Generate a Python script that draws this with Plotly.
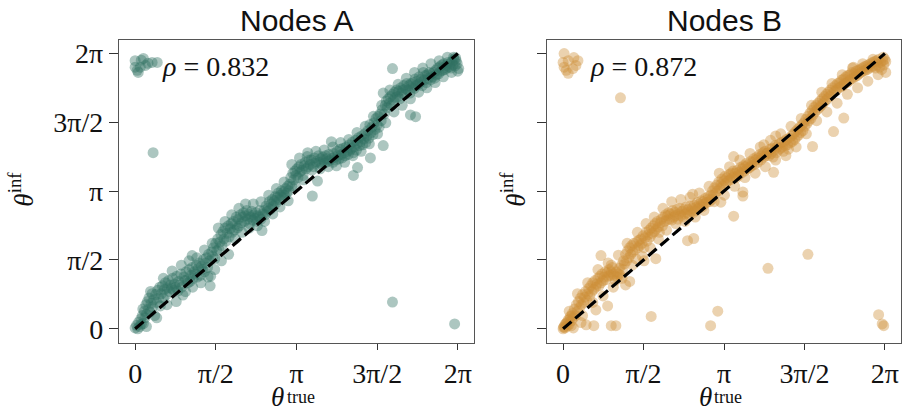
import math
import plotly.graph_objects as go

TWO_PI = 2 * math.pi

# ---------------- Nodes A : true vs inferred angular coordinates ----------------
a_true_1 = [0.00, 0.03, 0.05, 0.07, 0.09, 0.11, 0.12, 0.14, 0.16, 0.18, 0.19, 0.21, 0.22, 0.24,
            0.26, 0.27, 0.29, 0.31, 0.33, 0.34, 0.36, 0.38, 0.40, 0.42, 0.44, 0.46, 0.48, 0.49,
            0.51, 0.53, 0.55, 0.57, 0.59, 0.61, 0.63, 0.65, 0.67, 0.69, 0.71, 0.73, 0.75, 0.77,
            0.79, 0.81, 0.83, 0.85, 0.87, 0.89, 0.91, 0.93, 0.95, 0.97, 0.99]
a_inf_1 = [0.02, 0.08, 0.00, 0.15, 0.05, 0.22, 0.10, 0.30, 0.12, 0.40, 0.25, 0.55, 0.33, 0.62,
           0.45, 0.70, 0.38, 0.58, 0.80, 0.50, 0.66, 0.30, 0.78, 0.60, 0.88, 0.70, 0.95, 0.52,
           0.80, 0.98, 0.70, 0.90, 1.05, 0.78, 0.93, 1.10, 0.85, 1.00, 0.92, 1.15, 0.88, 1.02,
           0.95, 1.20, 0.86, 1.08, 1.00, 1.25, 0.95, 0.77, 1.18, 1.10, 1.30]

a_true_2 = [1.01, 1.03, 1.05, 1.07, 1.09, 1.11, 1.11, 1.13, 1.15, 1.17, 1.19, 1.21, 1.23, 1.25,
            1.27, 1.29, 1.31, 1.33, 1.35, 1.37, 1.39, 1.41, 1.43, 1.45, 1.46, 1.47, 1.49,
            1.51, 1.53, 1.55, 1.57, 1.59, 1.61, 1.63, 1.65, 1.67, 1.69, 1.71, 1.73, 1.75, 1.77,
            1.79, 1.81, 1.83, 1.85, 1.87, 1.89, 1.91, 1.93, 1.95, 1.97, 1.99]
a_inf_2 = [1.12, 1.05, 1.35, 1.08, 1.22, 1.40, 1.67, 1.15, 1.30, 1.25, 1.45, 1.18, 1.38, 1.50,
           1.22, 1.42, 1.35, 1.58, 1.30, 1.50, 1.62, 1.40, 1.70, 1.55, 0.98, 1.20, 1.75,
           1.65, 1.85, 1.60, 1.95, 1.78, 2.05, 1.82, 1.98, 2.15, 1.90, 2.22, 2.05, 2.30, 2.00,
           2.18, 2.35, 2.10, 2.28, 2.40, 2.20, 2.45, 2.25, 2.38, 2.55, 2.30]

a_true_3 = [2.01, 2.03, 2.05, 2.07, 2.09, 2.11, 2.13, 2.15, 2.17, 2.19, 2.21, 2.23, 2.25, 2.27,
            2.29, 2.31, 2.33, 2.35, 2.37, 2.39, 2.41, 2.43, 2.45, 2.47, 2.49,
            2.51, 2.53, 2.55, 2.57, 2.59, 2.61, 2.63, 2.65, 2.67, 2.69, 2.71, 2.73, 2.75, 2.77,
            2.79, 2.81, 2.83, 2.85, 2.87, 2.89, 2.91, 2.93, 2.95, 2.97, 2.99]
a_inf_3 = [2.50, 2.35, 2.60, 2.42, 2.55, 2.65, 2.45, 2.58, 2.70, 2.50, 2.62, 2.40, 2.55, 2.68,
           2.48, 2.60, 2.52, 2.65, 2.45, 2.58, 2.55, 2.70, 2.50, 2.24, 2.62,
           2.70, 2.60, 2.80, 2.68, 2.75, 2.90, 2.72, 2.85, 2.95, 2.80, 2.92, 3.02, 2.88, 3.00,
           3.10, 2.95, 3.05, 3.15, 3.00, 3.12, 3.05, 3.20, 3.10, 3.25, 3.15]

a_true_4 = [3.01, 3.03, 3.05, 3.07, 3.09, 3.11, 3.13, 3.15, 3.17, 3.19, 3.21, 3.23, 3.25, 3.27,
            3.29, 3.31, 3.33, 3.35, 3.37, 3.39, 3.45,
            3.41, 3.43, 3.47, 3.49, 3.51, 3.53, 3.55, 3.57, 3.59, 3.61, 3.63, 3.65, 3.67, 3.69,
            3.71, 3.73, 3.75, 3.77, 3.79, 3.82, 3.83, 3.85, 3.87, 3.89, 3.91, 3.93, 3.95, 3.97,
            3.99, 4.01, 4.03, 4.05, 4.07, 4.09, 4.11, 4.13, 4.15, 4.17, 4.19]
a_inf_4 = [3.30, 3.45, 3.25, 3.55, 3.40, 3.60, 3.50, 3.65, 3.45, 3.70, 3.58, 3.75, 3.62, 3.50,
           3.72, 3.80, 3.65, 3.93, 3.70, 3.85, 3.03,
           3.75, 3.85, 3.70, 3.90, 3.78, 3.82, 3.37, 3.95, 3.80, 3.88, 3.75, 3.92, 3.85, 3.78,
           3.95, 3.88, 3.82, 3.98, 3.85, 4.27, 3.90, 3.80, 4.00, 3.92, 3.85, 4.05, 3.95, 3.88,
           4.10, 3.98, 3.90, 4.12, 4.02, 3.95, 4.15, 4.05, 3.98, 4.20, 4.08]

a_true_5 = [4.21, 4.23, 4.25, 4.27, 4.29, 4.31, 4.33, 4.35, 4.37, 4.39, 4.41, 4.43, 4.45, 4.47,
            4.49, 4.51, 4.53, 4.55, 4.57, 4.59, 4.61, 4.63, 4.65, 4.67, 4.69, 4.71, 4.73, 4.75,
            4.77, 4.79,
            4.25, 4.33, 4.58, 4.83,
            4.81, 4.83, 4.85, 4.87, 4.89, 4.91, 4.93, 4.95, 4.97, 4.99, 5.01, 5.03, 5.05, 5.07,
            5.09, 5.11, 5.13, 5.15, 5.17, 5.19, 5.21, 5.23, 5.25, 5.27, 5.29]
a_inf_5 = [4.12, 4.26, 4.02, 4.16, 4.30, 4.08, 4.24, 4.36, 4.18, 4.28, 4.40, 4.20, 4.33, 4.45,
           4.25, 4.40, 4.52, 4.35, 4.66, 4.47, 4.60, 4.43, 4.70, 4.55, 4.80, 4.65, 4.85, 4.60,
           4.90, 4.75,
           3.50, 3.68, 3.90, 4.18,
           5.00, 5.38, 4.90, 5.10, 5.20, 5.05, 5.25, 5.15, 5.30, 5.10, 5.35, 5.22, 5.40, 5.28,
           5.45, 5.30, 5.42, 5.25, 5.50, 5.38, 5.45, 5.55, 5.35, 5.48, 5.60]

a_true_6 = [5.31, 5.33, 5.35, 5.37, 5.39, 5.41, 5.43, 5.45, 5.47, 5.49, 5.51, 5.53, 5.55, 5.57,
            5.59, 5.61, 5.63, 5.65, 5.67, 5.69, 5.71, 5.73, 5.75, 5.77, 5.79,
            5.36, 5.46,
            5.81, 5.83, 5.85, 5.87, 5.89, 5.91, 5.93, 5.95, 5.97, 5.99, 6.01, 6.03, 6.05, 6.07,
            6.09, 6.11, 6.13, 6.15, 6.17, 6.19, 6.21, 6.23, 6.25, 6.27,
            6.30, 6.20]
a_inf_6 = [5.45, 5.55, 5.38, 5.60, 5.50, 5.62, 5.48, 5.70, 5.55, 5.65, 5.58, 5.75, 5.62, 5.70,
           5.55, 5.85, 5.68, 5.78, 5.62, 5.80, 5.72, 5.85, 5.68, 5.82, 5.75,
           4.88, 4.84,
           5.85, 5.72, 5.90, 5.80, 5.95, 5.82, 5.98, 5.88, 6.02, 5.90, 6.05, 5.92, 6.00, 5.95,
           6.08, 5.98, 6.05, 5.95, 6.10, 6.02, 6.15, 6.00, 6.12, 6.05,
           5.94, 6.20]

# looser nodes on both flanks of the diagonal band
a_true_wide = [0.15, 0.22, 0.30, 0.42, 0.55, 0.62, 0.72, 0.80, 0.90, 0.98, 1.05, 1.12, 1.20,
               1.28, 1.35, 1.42, 1.50, 1.55, 1.62, 1.68, 1.75, 1.82, 1.88, 1.95, 2.02, 2.08,
               2.15, 2.22, 2.30, 2.38, 2.45, 2.52, 2.60, 2.68, 2.75, 2.82, 2.90, 2.98, 3.05,
               3.12, 3.20, 3.28, 3.36, 3.44, 3.52, 3.60, 3.68, 3.76, 3.85, 3.92, 4.00, 4.08,
               4.16, 4.24, 4.32, 4.40, 4.48, 4.56, 4.64, 4.72, 4.80, 4.88, 4.96, 5.04, 5.12,
               5.20, 5.28, 5.36, 5.44, 5.52, 5.60, 5.68, 5.76, 5.84, 5.92, 6.00, 6.08, 6.16,
               6.24, 6.28]
a_inf_wide = [0.45, 0.05, 0.85, 0.25, 1.15, 0.55, 1.32, 0.62, 1.45, 0.85, 1.55, 0.95, 1.62,
              1.05, 1.80, 1.18, 1.95, 1.35, 2.30, 1.55, 2.45, 1.70, 2.60, 2.05, 2.75, 2.20,
              2.85, 2.30, 2.85, 2.35, 2.90, 2.45, 3.05, 2.62, 3.20, 2.78, 3.35, 2.92, 3.75,
              3.25, 3.90, 3.40, 4.02, 3.62, 4.05, 3.65, 4.08, 3.70, 4.15, 3.72, 4.25, 3.80,
              4.32, 3.95, 4.48, 4.05, 4.62, 4.22, 4.85, 4.45, 5.10, 4.70, 5.45, 4.95, 5.58,
              5.10, 5.72, 5.25, 5.85, 5.40, 5.95, 5.50, 6.05, 5.62, 6.12, 5.75, 6.20, 5.85,
              6.18, 5.88]

# nodes whose inferred angle wrapped around the circle or landed far off
a_true_off = [0.00, 0.16, 0.33, 0.43, 0.04, 0.00, 0.10, 0.20, 0.25, 0.06, 0.12,
              0.35, 5.01, 6.22, 5.01]
a_inf_off = [6.12, 6.17, 6.08, 6.08, 5.90, 5.97, 5.97, 6.01, 6.06, 5.85, 6.13,
             4.02, 0.61, 0.11, 5.94]

# ---------------- Nodes B ----------------
b_true_1 = [0.00, 0.02, 0.04, 0.06, 0.08, 0.10, 0.12, 0.14, 0.16, 0.18, 0.20, 0.22, 0.24, 0.26,
            0.28, 0.30, 0.32, 0.34, 0.36, 0.38, 0.40, 0.42, 0.44, 0.46, 0.48,
            0.50, 0.52, 0.54, 0.56, 0.58, 0.60, 0.62, 0.64, 0.66, 0.68, 0.70, 0.72, 0.74, 0.76,
            0.78, 0.80, 0.82, 0.84, 0.86, 0.88, 0.90, 0.92, 0.94, 0.96, 0.98,
            0.01, 0.04, 0.08, 0.13, 0.17]
b_inf_1 = [0.00, 0.05, 0.02, 0.12, 0.06, 0.20, 0.10, 0.28, 0.18, 0.35, 0.25, 0.45, 0.30, 0.55,
           0.40, 0.62, 0.48, 0.70, 0.55, 0.78, 0.60, 0.72, 0.85, 0.65, 0.80,
           0.92, 0.75, 0.98, 0.85, 1.05, 0.90, 1.10, 0.95, 1.02, 1.15, 0.98, 1.20, 1.05, 1.25,
           1.10, 1.18, 1.30, 1.12, 1.28, 1.20, 1.35, 1.22, 1.30, 1.40, 1.25,
           0.03, 0.10, 0.15, 0.22, 0.30]

b_true_2 = [1.00, 1.02, 1.04, 1.06, 1.08, 1.10, 1.12, 1.14, 1.16, 1.18, 1.20, 1.22, 1.24, 1.26,
            1.28, 1.30, 1.32, 1.34, 1.36, 1.38, 1.40, 1.42, 1.44, 1.46, 1.48,
            1.22, 1.30, 1.58, 1.81,
            1.50, 1.52, 1.54, 1.56, 1.58, 1.60, 1.62, 1.64, 1.66, 1.68, 1.70, 1.72, 1.74, 1.76,
            1.78, 1.80, 1.82, 1.84, 1.86, 1.88, 1.90, 1.92, 1.94, 1.96, 1.98, 2.00, 2.02, 2.04,
            2.06, 2.08]
b_inf_2 = [1.20, 1.10, 1.30, 1.18, 1.25, 1.38, 1.22, 1.45, 1.35, 1.55, 1.48, 1.70, 1.55, 1.78,
           1.62, 1.85, 1.70, 1.90, 1.75, 1.95, 1.80, 1.60, 1.98, 1.85, 2.02,
           1.00, 1.08, 1.55, 1.60,
           1.90, 2.05, 1.95, 2.12, 1.85, 2.08, 2.20, 2.00, 2.15, 2.25, 2.10, 2.30, 2.18, 2.35,
           2.22, 2.40, 2.28, 2.45, 2.32, 2.20, 2.42, 2.50, 2.35, 2.55, 2.45, 2.60, 2.48, 2.58,
           2.65, 2.50]

b_true_3 = [2.10, 2.12, 2.14, 2.16, 2.18, 2.20, 2.22, 2.24, 2.26, 2.28, 2.30, 2.32, 2.34, 2.36,
            2.38, 2.40, 2.42, 2.44, 2.46, 2.48, 2.50,
            2.43, 2.55, 2.53,
            2.52, 2.54, 2.56, 2.58, 2.60, 2.62, 2.64, 2.66, 2.68, 2.70, 2.72, 2.74, 2.76, 2.78,
            2.80, 2.82, 2.84, 2.86, 2.88, 2.90,
            2.92, 2.94, 2.96, 2.98, 3.00, 3.02, 3.04, 3.06, 3.08, 3.10, 3.12, 3.14, 3.16, 3.18,
            3.20, 3.22, 3.24, 3.26, 3.28, 3.30, 3.32, 3.34,
            3.33, 3.33, 3.08]
b_inf_3 = [2.62, 2.48, 2.70, 2.55, 2.66, 2.58, 2.72, 2.50, 2.62, 2.75, 2.58, 2.68, 2.55, 2.72,
           2.62, 2.78, 2.65, 2.72, 2.60, 2.80, 2.68,
           2.01, 2.06, 3.07,
           2.75, 2.65, 2.82, 2.70, 2.78, 2.88, 2.75, 2.85, 2.80, 2.92, 2.78, 2.90, 2.85, 2.98,
           2.88, 2.95, 3.02, 2.90, 3.05, 2.95,
           3.15, 3.05, 3.22, 3.10, 3.28, 3.15, 3.35, 3.20, 3.30, 3.42, 3.25, 3.38, 3.48, 3.32,
           3.45, 3.38, 3.52, 3.40, 3.55, 3.45, 3.60, 3.48,
           2.57, 3.93, 2.89]

b_true_4 = [3.36, 3.38, 3.40, 3.42, 3.44, 3.46, 3.48, 3.50, 3.52, 3.54, 3.56, 3.58, 3.60, 3.62,
            3.64, 3.66, 3.68, 3.70, 3.72, 3.74, 3.76, 3.78, 3.80, 3.82, 3.84, 3.86, 3.88, 3.90,
            3.92, 3.94, 3.96, 3.98,
            3.51, 3.51, 3.92, 4.11, 4.15,
            4.00, 4.02, 4.04, 4.06, 4.08, 4.10, 4.12, 4.14, 4.16, 4.18, 4.20, 4.22, 4.24, 4.26,
            4.28, 4.30, 4.32, 4.34, 4.36, 4.38, 4.40, 4.42, 4.44, 4.46, 4.48, 4.50, 4.52, 4.54,
            4.56, 4.58, 4.60, 4.62, 4.64, 4.66, 4.68, 4.70]
b_inf_4 = [3.55, 3.45, 3.62, 3.50, 3.58, 3.68, 3.55, 3.65, 3.72, 3.60, 3.70, 3.78, 3.65, 3.75,
           3.68, 3.82, 3.72, 3.80, 3.88, 3.75, 3.85, 3.92, 3.80, 3.90, 3.98, 3.85, 3.95, 4.02,
           3.92, 4.05, 3.95, 4.00,
           3.03, 3.12, 4.20, 3.57, 4.40,
           4.02, 3.95, 4.10, 4.00, 4.12, 3.92, 4.08, 4.18, 4.02, 4.15, 4.08, 4.22, 4.12, 4.25,
           4.15, 4.05, 4.28, 4.18, 4.32, 4.20, 4.10, 4.35, 4.25, 4.40, 4.28, 4.45, 4.32, 4.50,
           4.38, 4.55, 4.42, 4.60, 4.48, 4.65, 4.52, 4.70]

b_true_5 = [4.72, 4.74, 4.76, 4.78, 4.80, 4.82, 4.84, 4.86, 4.88, 4.90, 4.92, 4.94, 4.96, 4.98,
            5.00, 5.02, 5.04, 5.06, 5.08, 5.10, 5.12, 5.14, 5.16, 5.18, 5.20, 5.22, 5.24, 5.26,
            4.87, 5.28, 5.48, 5.67,
            5.30, 5.32, 5.34, 5.36, 5.38, 5.40, 5.42, 5.44, 5.46, 5.48, 5.50, 5.52, 5.54, 5.56,
            5.58, 5.60, 5.62, 5.64, 5.66, 5.68, 5.70, 5.72, 5.74, 5.76, 5.78,
            5.80, 5.82, 5.84, 5.86, 5.88, 5.90, 5.92, 5.94, 5.96, 5.98, 6.00, 6.02, 6.04, 6.06,
            6.08, 6.10, 6.12, 6.14, 6.16, 6.18, 6.20, 6.22, 6.24, 6.26, 6.28, 6.30]
b_inf_5 = [4.62, 4.78, 4.68, 4.85, 4.75, 4.92, 4.80, 4.98, 4.88, 5.05, 4.95, 5.10, 5.00, 5.15,
           5.05, 5.20, 5.10, 5.25, 5.15, 5.30, 5.20, 5.35, 5.25, 5.40, 5.30, 5.45, 5.35, 5.50,
           4.16, 4.50, 4.81, 5.97,
           5.42, 5.55, 5.45, 5.60, 5.50, 5.62, 5.52, 5.68, 5.55, 5.70, 5.60, 5.75, 5.62, 5.78,
           5.65, 5.80, 5.70, 5.85, 5.72, 5.82, 5.75, 5.88, 5.78, 5.90, 5.82,
           5.92, 5.85, 5.95, 5.88, 5.98, 5.90, 6.00, 5.92, 6.02, 5.95, 6.05, 5.98, 6.08, 6.00,
           6.10, 5.95, 6.12, 6.02, 6.15, 5.97, 6.08, 5.92, 6.12, 6.02, 6.15, 6.10]

b_true_wide = [0.12, 0.20, 0.28, 0.38, 0.48, 0.58, 0.68, 0.78, 0.88, 0.98, 1.08, 1.15, 1.25,
               1.35, 1.45, 1.55, 1.62, 1.70, 1.78, 1.86, 1.95, 2.02, 2.12, 2.20, 2.30, 2.38,
               2.48, 2.58, 2.66, 2.75, 2.85, 2.95, 3.05, 3.15, 3.25, 3.35, 3.45, 3.55, 3.65,
               3.75, 3.85, 3.95, 4.05, 4.15, 4.25, 4.35, 4.45, 4.55, 4.65, 4.75, 4.85, 4.95,
               5.05, 5.15, 5.25, 5.35, 5.45, 5.55, 5.65, 5.75, 5.85, 5.95, 6.05, 6.15, 6.25,
               6.30]
b_inf_wide = [0.40, 0.02, 0.80, 0.30, 1.05, 0.60, 1.35, 0.75, 1.50, 0.95, 1.68, 1.15, 1.95,
              1.45, 2.20, 1.65, 2.40, 1.85, 2.55, 2.05, 2.75, 2.25, 2.90, 2.40, 2.95, 2.45,
              3.00, 2.55, 3.10, 2.70, 3.25, 2.90, 3.55, 3.05, 3.70, 3.25, 3.85, 3.45, 4.00,
              3.55, 4.15, 3.70, 4.30, 3.85, 4.45, 3.95, 4.62, 4.15, 4.80, 4.45, 5.10, 4.75,
              5.40, 4.95, 5.60, 5.15, 5.80, 5.35, 5.95, 5.50, 6.05, 5.65, 6.15, 5.80, 6.20,
              5.85]

b_true_off = [0.02, 0.00, 0.10, 0.21, 0.29, 0.25, 0.06, 0.10, 0.19, 0.02,
              1.12, 4.00, 4.78, 6.16, 6.23, 6.26, 1.72, 2.88, 3.02,
              0.74, 0.94, 0.64, 0.87, 0.16, 0.35, 0.45, 0.60, 0.94, 1.03]
b_inf_off = [6.28, 6.08, 6.12, 6.19, 6.12, 6.01, 5.90, 5.83, 5.94, 5.97,
             5.27, 1.38, 1.70, 0.32, 0.11, 0.07, 0.28, 0.07, 0.40,
             1.67, 1.45, 0.43, 0.52, 0.07, 0.14, 0.09, 0.07, 0.07, 0.07]

panels = [
    dict(name="Nodes A", rho="0.832", color="rgba(47,112,97,0.4)",
         true=[a_true_1, a_true_2, a_true_3, a_true_4, a_true_5, a_true_6, a_true_wide,
               a_true_off],
         inf=[a_inf_1, a_inf_2, a_inf_3, a_inf_4, a_inf_5, a_inf_6, a_inf_wide, a_inf_off]),
    dict(name="Nodes B", rho="0.872", color="rgba(206,143,56,0.4)",
         true=[b_true_1, b_true_2, b_true_3, b_true_4, b_true_5, b_true_wide, b_true_off],
         inf=[b_inf_1, b_inf_2, b_inf_3, b_inf_4, b_inf_5, b_inf_wide, b_inf_off]),
]

tick_vals = [0, math.pi / 2, math.pi, 3 * math.pi / 2, TWO_PI]
tick_text = ["0", "π/2", "π", "3π/2", "2π"]

W, H = 902, 415
# plot boxes in pixels: (left, right), shared top/bottom
boxes = [(119, 474), (547, 901)]
top_px, bottom_px = 39, 344
pad = 0.05 * TWO_PI
axis_range = [-pad, TWO_PI + pad]

serif = "Liberation Serif"
ink = "#111111"
spine = "#555555"


def label(text, x_px, y_px, size, xanchor="center", angle=0, family=serif):
    return dict(text=text, x=x_px / W, y=1 - y_px / H, xref="paper", yref="paper",
                xanchor=xanchor, yanchor="middle", textangle=angle, showarrow=False,
                font=dict(family=family, size=size, color=ink))


fig = go.Figure()
annotations = []
for i, p in enumerate(panels):
    suffix = "" if i == 0 else str(i + 1)
    xs, ys = [], []
    for t, v in zip(p["true"], p["inf"]):
        assert len(t) == len(v)
        xs += t
        ys += v
    fig.add_trace(go.Scatter(
        x=xs, y=ys, mode="markers", xaxis="x" + suffix, yaxis="y" + suffix,
        marker=dict(size=11, color=p["color"], line=dict(width=0)),
        hoverinfo="skip", showlegend=False))
    fig.add_trace(go.Scatter(
        x=[0, TWO_PI], y=[0, TWO_PI], mode="lines", xaxis="x" + suffix, yaxis="y" + suffix,
        line=dict(color="black", width=3.2, dash="11px,5px"),
        hoverinfo="skip", showlegend=False))

    left, right = boxes[i]
    common = dict(range=axis_range, showgrid=False, zeroline=False, showline=True,
                  mirror=True, linecolor=spine, linewidth=1.3, ticks="outside",
                  tickwidth=1.3, tickcolor="#333333", tickvals=tick_vals,
                  ticktext=tick_text, tickfont=dict(family=serif, size=28, color=ink))
    fig.layout["xaxis" + suffix] = dict(common, domain=[left / W, right / W],
                                        anchor="y" + suffix, ticklen=6)
    fig.layout["yaxis" + suffix] = dict(common, domain=[1 - bottom_px / H, 1 - top_px / H],
                                        anchor="x" + suffix, ticklen=9,
                                        showticklabels=(i == 0))

    cx = (left + right) / 2
    annotations.append(label(p["name"], cx, 20, 30, family="Liberation Sans"))
    annotations.append(label("<i>ρ</i> = " + p["rho"], left + 41, 66, 28, xanchor="left"))
    # x-axis title: theta with a "true" superscript, set as two pieces
    annotations.append(label("<i>θ</i>", cx - 19, 399, 27))
    annotations.append(label("true", cx - 12, 399, 18, xanchor="left"))
    # y-axis title
    annotations.append(label("<i>θ</i><sup>inf</sup>", left - 98 if i == 0 else left - 34,
                             190, 27, angle=-90))

fig.update_layout(width=W, height=H, margin=dict(l=0, r=0, t=0, b=0),
                  paper_bgcolor="white", plot_bgcolor="white",
                  annotations=annotations, showlegend=False)

fig.write_html("out.html")
